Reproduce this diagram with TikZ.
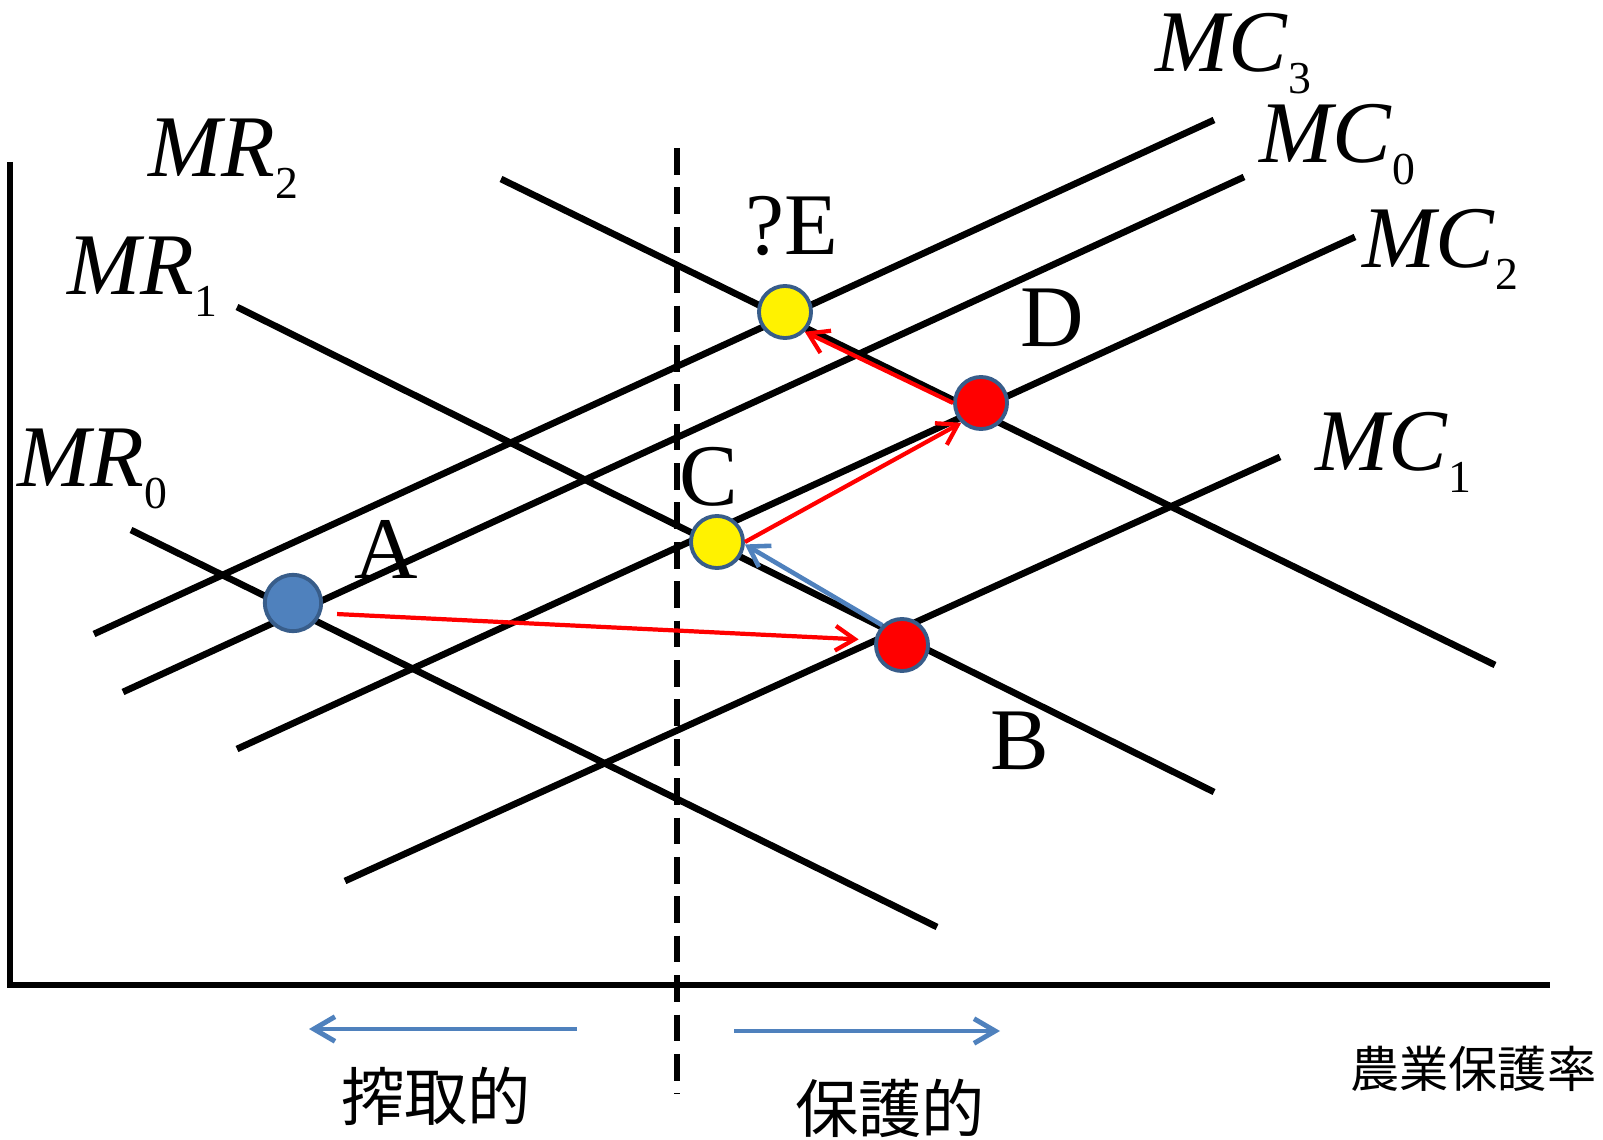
\documentclass[tikz,border=0pt]{standalone}
\usepackage{fontspec}
\setmainfont{Liberation Serif}
\newfontfamily\cjk{Noto Sans CJK JP}
\usetikzlibrary{arrows.meta, positioning}
\definecolor{pointblue}{RGB}{79, 129, 189}
\definecolor{rimblue}{RGB}{56, 93, 138}
\newcommand{\curvename}[2]{\textit{#1}\raisebox{-6pt}{\fontsize{13}{13}\selectfont #2}}

\begin{document}
\begin{tikzpicture}[
    x=0.01cm, y=-0.01cm,
    curve/.style={line width=1.9pt},
    axis/.style={line width=1.8pt, line join=miter},
    dot/.style={circle, draw=rimblue, line width=1.1pt,
                minimum size=14.8pt, inner sep=0pt},
    move/.style={-{Straight Barb[length=5.5pt, width=7pt]}, line width=1.2pt, red},
    back/.style={-{Straight Barb[length=5.5pt, width=7pt]}, line width=1.3pt, pointblue},
    side/.style={-{Straight Barb[length=6pt, width=7pt]}, line width=1.4pt, pointblue},
    curvelabel/.style={anchor=base west, inner sep=0pt, font=\fontsize{25}{30}\selectfont},
    pointlabel/.style={anchor=base, inner sep=0pt, font=\fontsize{25}{30}\selectfont},
    jp/.style={inner sep=0pt, font=\cjk\fontsize{18}{22}\selectfont}
]
\useasboundingbox (0,0) rectangle (1603,1140);

% Axes
\draw[axis] (10,162) -- (10,985) -- (1550,985);
\draw[line width=1.6pt, dash pattern=on 7.6pt off 3.6pt] (677,148) -- (677,1094);

% MR curves
\draw[curve] (501,179) -- (1495,665);
\draw[curve] (237,307) -- (1214,792);
\draw[curve] (131,530) -- (937,927);

% MC curves
\draw[curve] (94,634) -- (1214,120);
\draw[curve] (123,692) -- (1244,177);
\draw[curve] (237,749) -- (1355,237);
\draw[curve] (345,881) -- (1280,457);

% Curve labels
\node[curvelabel] (mr2) at (148,177) {\curvename{MR}{2}};
\node[curvelabel] (mr1) at (67,295) {\curvename{MR}{1}};
\node[curvelabel] (mr0) at (17,487) {\curvename{MR}{0}};
\node[curvelabel] (mc3) at (1155,72) {\curvename{MC}{3}};
\node[curvelabel] (mc0) at (1259,163) {\curvename{MC}{0}};
\node[curvelabel] (mc2) at (1362,268) {\curvename{MC}{2}};
\node[curvelabel] (mc1) at (1315,471) {\curvename{MC}{1}};

% Equilibria
\node[dot, fill=pointblue, minimum size=16pt] (ptA) at (293,603) {};
\node[dot, fill=red] (ptB) at (902,645) {};
\node[dot, fill=yellow] (ptC) at (717,542) {};
\node[dot, fill=red] (ptD) at (981,403) {};
\node[dot, fill=yellow] (ptE) at (785,312) {};

\node[pointlabel] (labA) at (386,578) {A};
\node[pointlabel] (labB) at (1020,769) {B};
\node[pointlabel] (labC) at (709,505) {C};
\node[pointlabel] (labD) at (1052,347) {D};
\node[pointlabel] (labE) at (792,255) {?E};

% Moves
\draw[move, shorten <=4.5pt, shorten >=4.5pt] (ptA.-20) -- (ptB.170);
\draw[back] (ptB.135) -- (ptC.-5);
\draw[move] (ptC.east) -- (ptD.225);
\draw[move] (ptD.west) -- (ptE.-45);

% Direction of protection
\coordinate (leftfrom) at (577,1029);
\coordinate (leftto) at (309,1029);
\coordinate (rightfrom) at (734,1031);
\coordinate (rightto) at (1000,1031);
\draw[side] (leftfrom) -- (leftto);
\draw[side] (rightfrom) -- (rightto);

\node[jp] (exploit) at (436,1096) {搾取的};
\node[jp] (protect) at (890,1108) {保護的};
\node[jp, anchor=east, font=\cjk\fontsize{14}{17}\selectfont] (rate) at (1597,1069) {農業保護率};

\end{tikzpicture}
\end{document}
